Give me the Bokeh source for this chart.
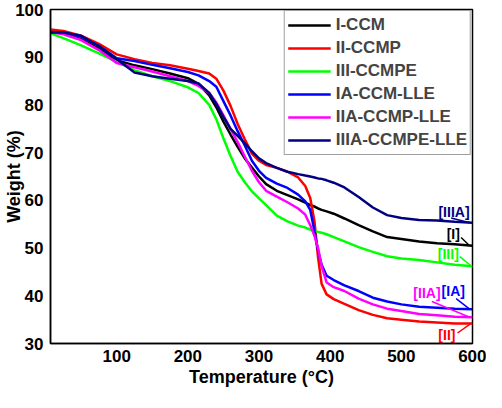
from bokeh.plotting import figure
from bokeh.models import Range1d, FixedTicker, ColumnDataSource
from bokeh.core.properties import value
from bokeh.embed import file_html
from bokeh.resources import INLINE

# ---- data ----
temperature = [7, 25, 50, 75, 100, 125, 150, 175, 200, 215, 230, 240, 250, 260, 270, 280,
               290, 300, 310, 325, 340, 355, 365, 372, 378, 383, 388, 395, 405, 420, 440,
               460, 480, 500, 525, 550, 575, 600]

w_I_CCM = [95.3, 95.0, 93.8, 91.8, 89.4, 88.3, 87.5, 86.6, 85.6, 84.4, 82.0, 79.5, 76.5, 73.8,
           71.2, 68.8, 66.9, 65.0, 63.4, 62.0, 61.1, 60.2, 59.5, 59.0, 58.7, 58.3, 58.0, 57.7,
           57.2, 56.2, 54.8, 53.5, 52.3, 51.9, 51.4, 51.0, 50.8, 50.5]
w_II_CCMP = [95.8, 95.5, 94.5, 92.8, 90.6, 89.6, 88.8, 88.3, 87.6, 87.1, 86.6, 85.5, 83.0, 79.8,
             76.0, 72.8, 69.8, 68.3, 67.4, 66.8, 66.0, 64.8, 63.0, 60.5, 55.5, 48.0, 42.5, 40.3,
             39.3, 38.3, 37.0, 36.0, 35.3, 35.0, 34.6, 34.4, 34.2, 34.2]
w_III_CCMPE = [95.0, 94.0, 92.5, 90.8, 89.0, 87.3, 86.0, 85.0, 83.7, 82.5, 80.0, 77.0, 73.0, 69.3,
               66.0, 63.8, 61.9, 60.4, 59.0, 56.8, 55.6, 54.7, 54.3, 53.9, 53.6, 53.4, 53.2, 52.9,
               52.3, 51.4, 50.2, 49.2, 48.3, 47.8, 47.5, 47.0, 46.5, 46.2]
w_IA_CCM_LLE = [95.3, 95.2, 94.3, 92.4, 89.8, 89.2, 88.4, 87.7, 86.9, 86.2, 85.0, 83.8, 80.8, 77.8,
                74.5, 71.5, 68.3, 66.2, 64.7, 63.5, 62.6, 61.2, 59.8, 58.0, 53.5, 49.5, 46.5, 44.2,
                43.3, 42.2, 41.0, 39.6, 38.8, 38.2, 37.7, 37.5, 37.3, 37.2]
w_IIA_CCMP_LLE = [95.3, 94.8, 93.6, 91.5, 88.8, 87.9, 87.0, 86.0, 85.0, 84.0, 82.5, 80.5, 77.8, 75.0,
                  72.2, 69.2, 66.2, 63.8, 62.0, 60.8, 59.6, 58.3, 57.0, 54.8, 52.5, 50.0, 46.2, 42.8,
                  41.8, 41.0, 39.4, 38.2, 37.3, 36.8, 36.2, 35.9, 35.6, 35.5]
w_IIIA_CCMPE_LLE = [95.2, 95.2, 94.5, 92.3, 89.6, 86.8, 86.0, 85.5, 85.0, 84.5, 82.5, 80.2, 77.5, 75.0,
                    73.5, 72.0, 70.3, 68.8, 67.8, 66.8, 66.0, 65.5, 65.2, 65.0, 64.8, 64.6, 64.5, 64.2,
                    63.7, 62.7, 60.7, 58.5, 56.9, 56.3, 55.9, 55.8, 55.5, 55.3]

series_names = ["I-CCM", "II-CCMP", "III-CCMPE", "IA-CCM-LLE", "IIA-CCMP-LLE", "IIIA-CCMPE-LLE"]
series_values = [w_I_CCM, w_II_CCMP, w_III_CCMPE, w_IA_CCM_LLE, w_IIA_CCMP_LLE, w_IIIA_CCMPE_LLE]
series_colors = ["#000000", "#FF0000", "#00FF00", "#0000FF", "#FF00FF", "#000080"]

x_ticks = [100, 200, 300, 400, 500, 600]
y_ticks = [30, 40, 50, 60, 70, 80, 90, 100]

# end-of-curve tags: text, colour, label position, leader start, leader end
tag_text = ["[IIIA]", "[I]", "[III]", "[IIA]", "[IA]", "[II]"]
tag_color = ["#000080", "#000000", "#00FF00", "#FF00FF", "#0000FF", "#FF0000"]
tag_x = [574, 573, 566, 536, 573, 564]
tag_y = [57.6, 52.9, 48.7, 40.5, 41.1, 31.7]
lead_x0 = [570, 584, 582, 543, 577, 579]
lead_y0 = [56.3, 52.2, 48.2, 38.8, 39.4, 32.2]
lead_x1 = [596, 596, 597, 596, 596, 597]
lead_y1 = [55.3, 50.5, 46.4, 35.5, 37.2, 34.1]

FONT = "Liberation Sans"

p = figure(width=486, height=392, output_backend="svg", toolbar_location=None,
           x_range=Range1d(7, 600), y_range=Range1d(30, 100),
           min_border_left=50, min_border_right=14, min_border_top=9, min_border_bottom=49)

for name, vals, col in zip(series_names, series_values, series_colors):
    p.line(temperature, vals, line_color=col, line_width=2.5, legend_label=name)

p.segment(x0=lead_x0, y0=lead_y0, x1=lead_x1, y1=lead_y1, line_color=tag_color, line_width=1.5)
tags = ColumnDataSource(dict(x=tag_x, y=tag_y, t=tag_text, c=tag_color))
p.text(x="x", y="y", text="t", text_color="c", source=tags, text_align="center",
       text_baseline="middle", text_font=value(FONT), text_font_style="bold",
       text_font_size="14px")

p.xgrid.visible = False
p.ygrid.visible = False
p.outline_line_color = "black"
p.outline_line_width = 1.5
p.outline_line_alpha = 1

for ax in (p.xaxis[0], p.yaxis[0]):
    ax.major_tick_line_color = None
    ax.minor_tick_line_color = None
    ax.major_tick_out = 0
    ax.major_tick_in = 0
    ax.minor_tick_out = 0
    ax.minor_tick_in = 0
    ax.axis_line_color = "black"
    ax.axis_line_width = 1.5
    ax.major_label_text_font = FONT
    ax.major_label_text_font_style = "bold"
    ax.major_label_text_font_size = "17px"
    ax.major_label_text_color = "black"
    ax.axis_label_text_font = FONT
    ax.axis_label_text_font_style = "bold"
    ax.axis_label_text_font_size = "18px"
    ax.axis_label_text_color = "black"

p.xaxis.ticker = FixedTicker(ticks=x_ticks)
p.yaxis.ticker = FixedTicker(ticks=y_ticks)
p.xaxis.axis_label = "Temperature (°C)"
p.yaxis.axis_label = "Weight (%)"
p.xaxis.major_label_standoff = 6
p.xaxis.axis_label_standoff = 2
p.yaxis.major_label_standoff = 7
p.yaxis.axis_label_standoff = -12

lg = p.legend[0]
lg.location = "top_right"
lg.margin = 1
lg.padding = 3
lg.spacing = 1
lg.label_height = 22
lg.glyph_height = 22
lg.glyph_width = 43
lg.label_standoff = 5
lg.label_text_font = FONT
lg.label_text_font_style = "bold"
lg.label_text_font_size = "17px"
lg.border_line_color = "#404040"
lg.border_line_width = 1
lg.background_fill_alpha = 1

open("out.html", "w").write(file_html(p, INLINE))
